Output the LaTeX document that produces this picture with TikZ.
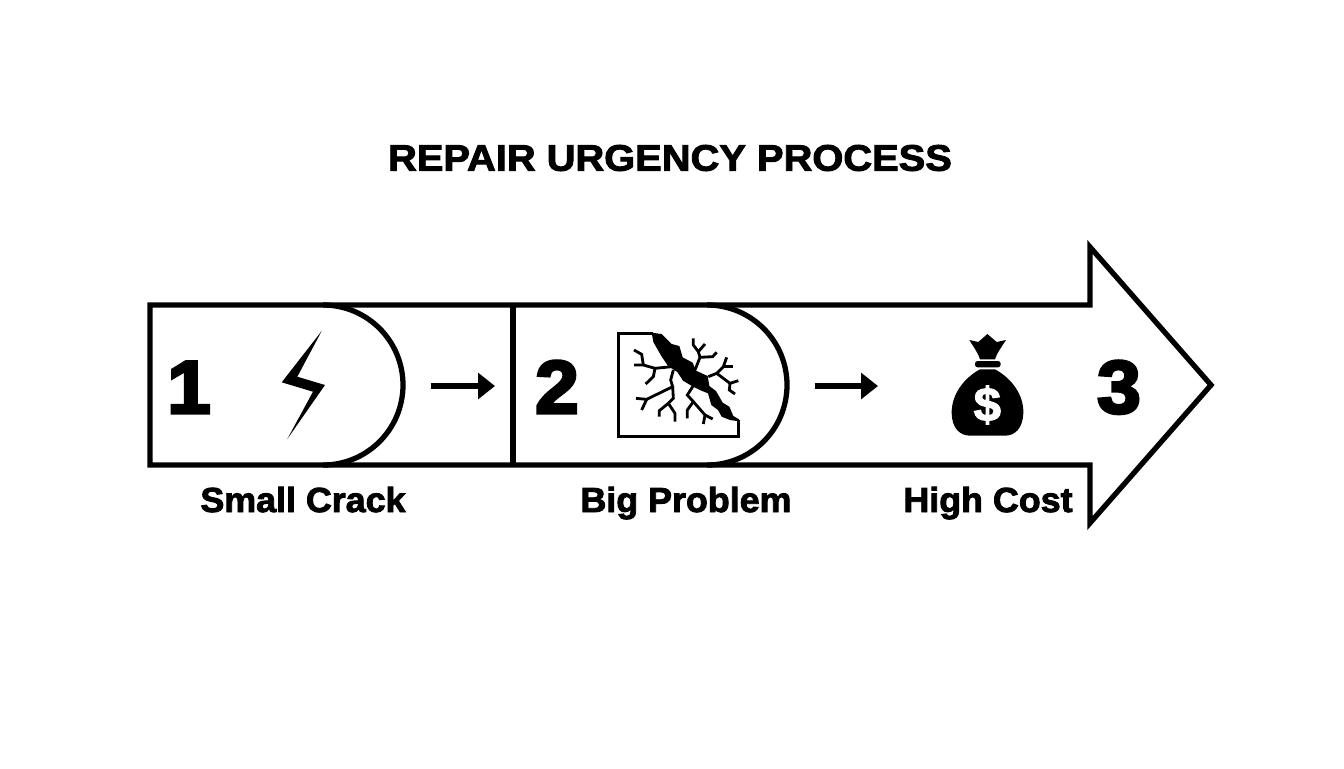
\documentclass[tikz,border=0pt]{standalone}
\usepackage{fontspec}
\setmainfont{Liberation Sans}
\newfontfamily\titlefont[BoldFeatures={FakeBold=2.5,FakeStretch=1.08}]{Liberation Sans}
\newfontfamily\capfont[BoldFeatures={FakeBold=2.5,FakeStretch=1.03}]{Liberation Sans}
\newfontfamily\numfont[BoldFeatures={FakeBold=4,FakeStretch=1.05}]{Liberation Sans}
\usetikzlibrary{arrows.meta}

\begin{document}
\begin{tikzpicture}[x=0.02cm,y=-0.02cm,>={Triangle[length=9.6pt,width=14.5pt]}]
  \tikzstyle{outline}=[line width=3pt,draw=black,line join=miter]
  \tikzstyle{flow}=[line width=3.3pt,->]
  \tikzstyle{heading}=[anchor=base,font=\titlefont\bfseries\fontsize{21}{24}\selectfont]
  \tikzstyle{caption}=[anchor=base,font=\capfont\bfseries\fontsize{19.8}{22}\selectfont]
  \tikzstyle{number}=[anchor=base,font=\numfont\bfseries\fontsize{42.6}{46}\selectfont]
  \tikzstyle{icon}=[fill=black,draw=none]
  \tikzstyle{twig}=[line width=1.6pt,line join=miter]
  \useasboundingbox (0,0) rectangle (1344,768);
  \node [heading] (title) at (670,170.7) {REPAIR URGENCY PROCESS};
  % big arrow and the two rounded panels
  \draw [outline] (150,305) -- (1090,305) -- (1090,247) -- (1211,385)
    -- (1090,523) -- (1090,465) -- (150,465) -- cycle;
  \draw [outline] (513,305) -- (513,465);
  \draw [outline] (323,305) arc (-90:90:80) (707,305) arc (-90:90:80);
  \node [number] (n1) at (189,413) {1};
  \node [number] (n2) at (557,413) {2};
  \node [number] (n3) at (1119,413) {3};
  \node [caption] (c1) at (303,512) {Small Crack};
  \node [caption] (c2) at (686,512) {Big Problem};
  \node [caption] (c3) at (988,512) {High Cost};
  \coordinate (f1a) at (431,386);
  \coordinate (f1b) at (495,386);
  \coordinate (f2a) at (815,386);
  \coordinate (f2b) at (878,386);
  \draw [flow] (f1a) -- (f1b);
  \draw [flow] (f2a) -- (f2b);
  % bolt
  \fill [icon] (321.7,331) -- (281.7,382.3) -- (313,391.7) -- (287.3,439)
    -- (325,385) -- (297.3,376.7) -- cycle;
  % crack
  \begin{scope}[shift={(600,320)},x=0.00667cm,y=-0.00667cm]
    \draw [line width=1.9pt] (160,40) -- (55,40) -- (55,350) -- (415,350) -- (415,300);
    \fill [icon] (155,38) -- (185,42) -- (215,72) -- (238,78) -- (248,112) -- (278,128)
      -- (288,152) -- (323,168) -- (328,198) -- (348,213) -- (368,248) -- (388,260)
      -- (400,288) -- (417,298) -- (417,304) -- (390,300) -- (365,290) -- (354,270) -- (334,255)
      -- (324,220) -- (304,212) -- (274,197) -- (249,182) -- (232,156) -- (204,138)
      -- (184,108) -- (160,66) -- cycle;
    \foreach \twigpath in {
      {(215,140) -- (165,145) -- (160,170) -- (137,192)},
      {(165,145) -- (130,135) -- (102,135)},
      {(130,135) -- (125,103) -- (102,90)},
      {(220,150) -- (212,180) -- (218,200) -- (140,238) -- (108,235)},
      {(140,238) -- (125,270)},
      {(218,200) -- (220,235) -- (205,250) -- (178,272) -- (178,290)},
      {(205,250) -- (225,280) -- (225,305)},
      {(280,197) -- (262,225) -- (280,245) -- (262,270) -- (262,295)},
      {(280,245) -- (315,285) -- (310,312)},
      {(315,285) -- (338,297)},
      {(285,150) -- (300,112) -- (295,95) -- (280,75) -- (280,55)},
      {(295,95) -- (315,72)},
      {(300,112) -- (338,110) -- (350,97)},
      {(325,170) -- (350,160) -- (370,140) -- (380,112)},
      {(370,140) -- (400,140)},
      {(350,160) -- (390,190) -- (415,182)},
      {(390,190) -- (388,210) -- (405,222)}}
      {\draw [twig] \twigpath;}
  \end{scope}
  % money bag
  \begin{scope}[shift={(930,320)},x=0.00667cm,y=-0.00667cm]
    \fill [icon] (118,60) -- (145,66) -- (172,42) -- (200,66) -- (228,60)
      .. controls (212,85) and (200,100) .. (195,118) -- (150,118)
      .. controls (145,100) and (133,85) .. (118,60) -- cycle;
    \fill [icon,rounded corners=1.5pt] (135,123) rectangle (212,142);
    \fill [icon] (150,148) -- (195,148) .. controls (245,175) and (282,225) .. (280,280)
      .. controls (278,325) and (255,347) .. (225,347) -- (120,347)
      .. controls (90,347) and (66,325) .. (65,280)
      .. controls (64,225) and (100,175) .. (150,148) -- cycle;
    \node [text=white,font=\capfont\bfseries\fontsize{27}{30}\selectfont] (dollar) at (172,255) {\$};
  \end{scope}
\end{tikzpicture}
\end{document}
